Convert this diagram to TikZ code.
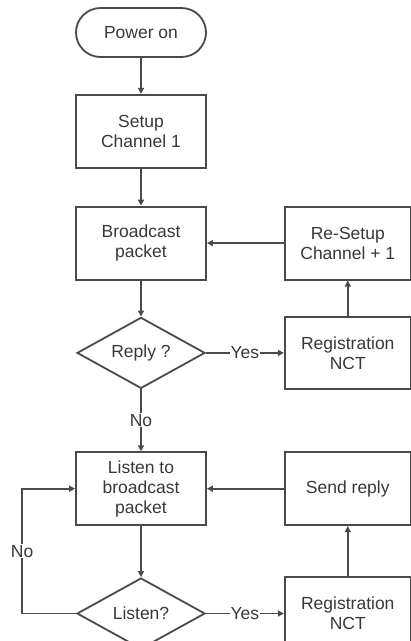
\documentclass[tikz,border=0pt]{standalone}
\usepackage{fontspec}
\setmainfont{Liberation Sans}
\usetikzlibrary{arrows.meta,positioning,shapes.geometric}
\definecolor{lncol}{HTML}{4A4A4A}
\definecolor{txcol}{HTML}{383838}

\begin{document}
\begin{tikzpicture}[font=\fontsize{17.5}{20}\selectfont, text=txcol]
\tikzset{
  term/.style ={draw=lncol, line width=1.8pt, rounded corners=24.5pt, align=center,
                minimum width=130pt, minimum height=49pt, inner sep=0pt},
  proc/.style ={draw=lncol, line width=1.8pt, align=center,
                minimum width=130pt, minimum height=73pt, inner sep=0pt},
  sideproc/.style={proc, minimum width=126pt},
  dec/.style  ={draw=lncol, line width=1.8pt, diamond, shape aspect=1.8, align=center,
                minimum width=128pt, minimum height=71pt, inner sep=0pt},
  lbl/.style={fill=white, inner sep=1pt},
  aF/.style={-{Triangle[length=6pt,width=6pt]}, line width=1.8pt, draw=lncol}
}
\useasboundingbox (0,0) rectangle (411pt,-641pt);
\node (pwr)[term] at (141pt,-32.5pt){Power on};
\node (setup)[proc,below=36pt of pwr]{Setup\\Channel 1};
\node (bcast)[proc,below=37pt of setup]{Broadcast\\packet};
\node (reply)[dec,below=36pt of bcast]{Reply ?};
\node (listen)[proc,below=62pt of reply]{Listen to\\broadcast\\packet};
\node (lsnq)[dec,below=51pt of listen]{Listen?};
\node (resetup)[sideproc,right=77pt of bcast]{Re-Setup\\Channel + 1};
\node (reg1)[sideproc,right=78pt of reply, minimum height=72pt]{Registration\\NCT};
\node (sendr)[sideproc,right=77pt of listen]{Send reply};
\node (reg2)[sideproc,right=78pt of lsnq]{Registration\\NCT};
\draw[aF](pwr)--(setup); \draw[aF](setup)--(bcast); \draw[aF](bcast)--(reply);
\draw[aF](reply)--node[lbl]{No}(listen); \draw[aF](listen)--(lsnq);
\draw[aF](reply.east)--node[lbl]{Yes}(reg1.west);
\draw[aF](reg1)--(resetup); \draw[aF](resetup.west)--(bcast.east);
\draw[aF](lsnq.east)--node[lbl]{Yes}(reg2.west);
\draw[aF](reg2)--(sendr); \draw[aF](sendr.west)--(listen.east);
\draw[aF](lsnq.west)--++(-54pt,0)|-node[lbl,pos=0.25]{No}(listen.west);
\end{tikzpicture}
\end{document}
